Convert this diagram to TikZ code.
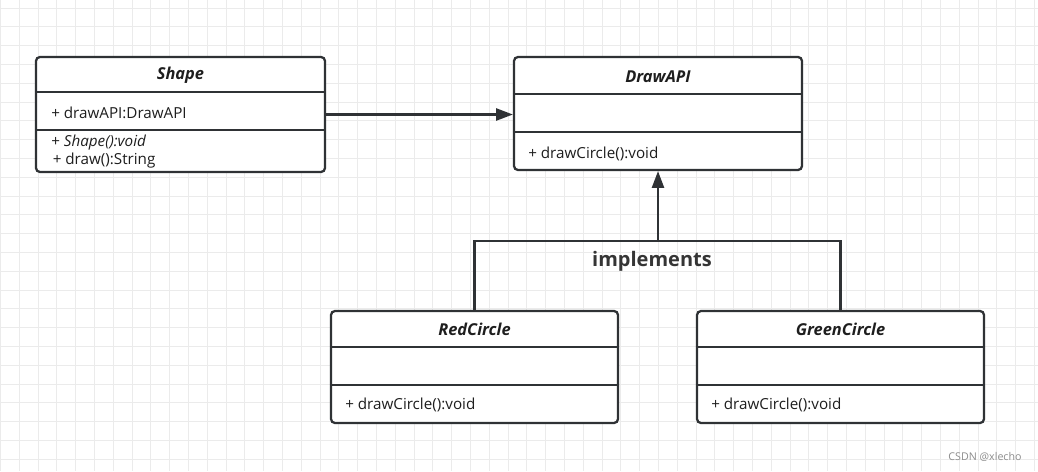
\documentclass[tikz,border=0pt]{standalone}
\usepackage{fontspec}
\setmainfont{Open Sans}
\usetikzlibrary{arrows.meta}
\definecolor{ink}{HTML}{2F3235}
\definecolor{gridc}{HTML}{EBEBEB}
\definecolor{txt}{HTML}{1E1E1E}
\tikzset{
 umlbox/.style={draw=ink, line width=1.7pt, rounded corners=3pt, fill=white, inner sep=0pt},
 divider/.style={draw=ink, line width=1.5pt},
 title/.style={font=\bfseries\itshape\fontsize{12.3}{14}\selectfont, text=txt, inner sep=0pt},
 member/.style={font=\fontsize{11.4}{13}\selectfont, text=txt, anchor=west, inner sep=0pt},
 conn/.style={draw=ink, line width=1.6pt},
 tip/.style={-{Triangle[length=12.5pt,width=9pt]}},
 gridline/.style={draw=gridc, line width=0.75pt}
}
\begin{document}
\begin{tikzpicture}[x=0.75pt,y=-0.75pt]
\useasboundingbox (0,0) rectangle (1038,471);
\fill[white] (0,0) rectangle (1038,471);
\foreach \i in {0,...,55} \draw[gridline] (0.5+18.8*\i,0) -- ++(0,471);
\foreach \j in {0,...,24} \draw[gridline] (0,8+18.8*\j) -- ++(1038,0);

% boxes
\node[umlbox, minimum width=216.75pt, minimum height=86.25pt] (shape) at (180.5,114.5) {};
\node[umlbox, minimum width=216pt, minimum height=84.75pt] (drawapi) at (658,113.5) {};
\node[umlbox, minimum width=215.25pt, minimum height=84pt] (red) at (474.5,367) {};
\node[umlbox, minimum width=215.25pt, minimum height=84pt] (green) at (840.5,367) {};

% dividers
\draw[divider] ([yshift=-27pt]shape.north west) -- ([yshift=-27pt]shape.north east);
\draw[divider] ([yshift=-55.5pt]shape.north west) -- ([yshift=-55.5pt]shape.north east);
\draw[divider] ([yshift=-28.5pt]drawapi.north west) -- ([yshift=-28.5pt]drawapi.north east);
\draw[divider] ([yshift=-57pt]drawapi.north west) -- ([yshift=-57pt]drawapi.north east);
\foreach \b in {red,green}{
  \draw[divider] ([yshift=-27.75pt]\b.north west) -- ([yshift=-27.75pt]\b.north east);
  \draw[divider] ([yshift=-56.25pt]\b.north west) -- ([yshift=-56.25pt]\b.north east);
}

% texts
\node[title] (shapeT) at (180.5,75.5) {Shape};
\node[member] (shapeA) at (51,112.5) {+ drawAPI:DrawAPI};
\node[member] (shapeM1) at (51,142.5) {+ \textit{Shape():void}};
\node[member] (shapeM2) at (52.5,161) {+ draw():String};
\node[title] (drawT) at (658,76.5) {DrawAPI};
\node[member] (drawM) at (528,153.5) {+ drawCircle():void};
\node[title] (redT) at (474.5,329.5) {RedCircle};
\node[member] (redM) at (345,405) {+ drawCircle():void};
\node[title] (greenT) at (840.5,329.5) {GreenCircle};
\node[member] (greenM) at (711,405) {+ drawCircle():void};

% connectors
\draw[conn,tip] (shape.east) -- (drawapi.west |- shape.east);
\coordinate (j) at (658,241);
\coordinate (jl) at (red.north |- j);
\coordinate (jr) at (green.north |- j);
\draw[conn] (red.north) -- (jl) -- (jr) -- (green.north);
\draw[conn,tip] (j) -- (drawapi.south);
\node[font=\bfseries\fontsize{15}{18}\selectfont, text=txt!90!white, inner sep=0pt] (impl) at (652,261) {implements};

% watermark
\node[font=\fontsize{8}{9}\selectfont, text=black!45, inner sep=0pt] (wm) at (985,457) {CSDN @xlecho};
\end{tikzpicture}
\end{document}
